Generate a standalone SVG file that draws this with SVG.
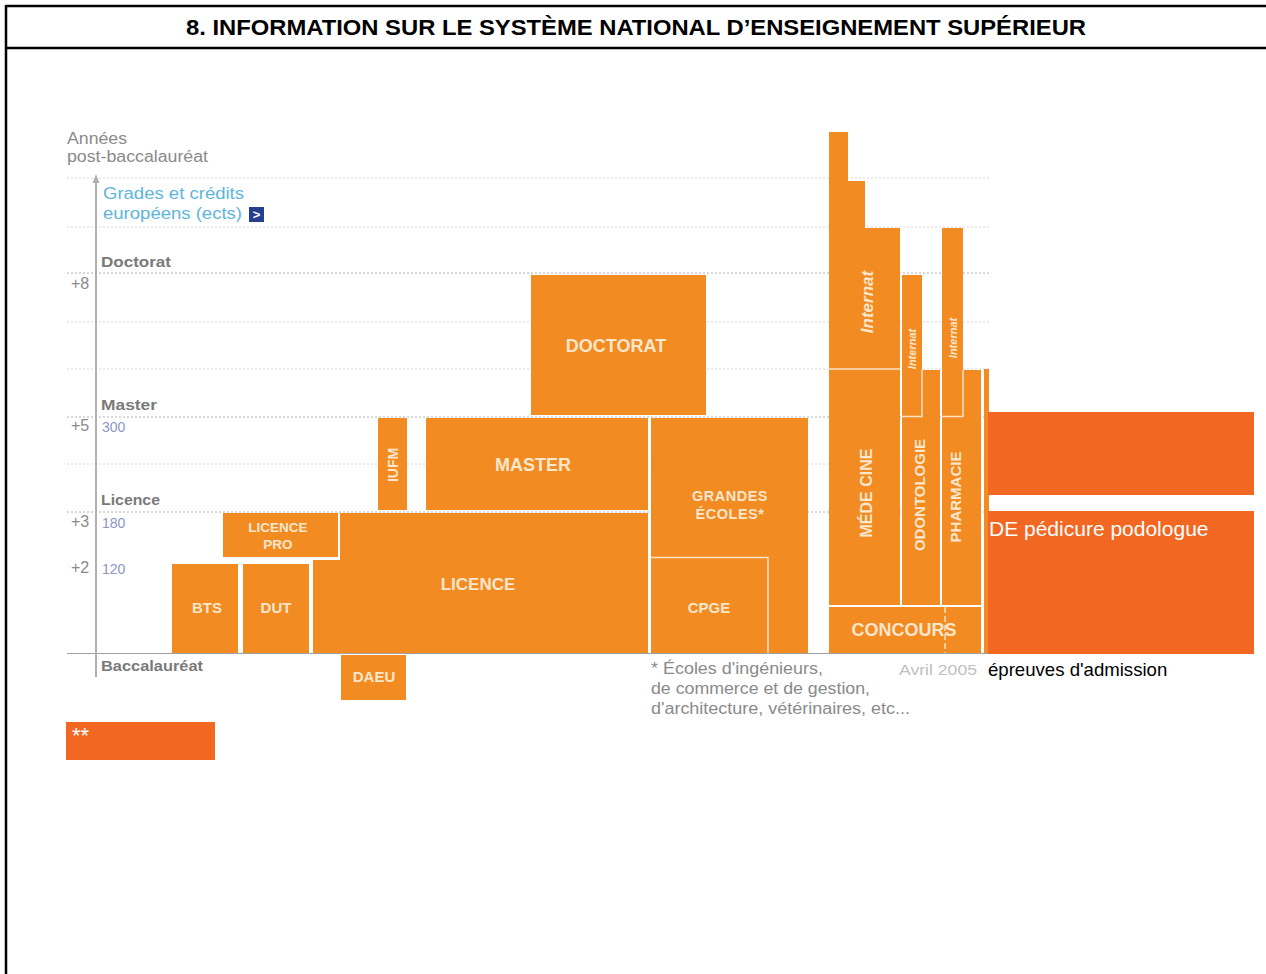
<svg xmlns="http://www.w3.org/2000/svg" width="1266" height="974" viewBox="0 0 1266 974">
<style>
.b{fill:#F28B22}
.sep{fill:none;stroke:#FBE2C4;stroke-width:1.5}
.lbl{font-family:"Liberation Sans",Arial,sans-serif;font-weight:bold;fill:#FCE6CC;text-anchor:middle}
.ax{font-family:"Liberation Sans",Arial,sans-serif;fill:#8a8a8a;font-size:16px}
.axb{font-family:"Liberation Sans",Arial,sans-serif;fill:#7a7a7a;font-size:15px;font-weight:bold}
.num{font-family:"Liberation Sans",Arial,sans-serif;fill:#8c95c4;font-size:14px}
.g1{stroke:#d6d6d6;stroke-width:1;stroke-dasharray:2 2}
.g2{stroke:#b0b0b0;stroke-width:1;stroke-dasharray:2 2}
.ov{fill:#F26722}
</style>
<rect width="1266" height="974" fill="#fff"/>
<g id="frame" stroke="#000" stroke-width="2.5" fill="none">
<line x1="6" y1="6" x2="1266" y2="6"/>
<line x1="6" y1="48" x2="1266" y2="48"/>
<line x1="6" y1="5" x2="6" y2="974"/>
</g>
<text id="title" x="636" y="35" font-family="Liberation Sans,Arial,sans-serif" font-weight="bold" font-size="22" text-anchor="middle" textLength="900" lengthAdjust="spacingAndGlyphs">8. INFORMATION SUR LE SYSTÈME NATIONAL D’ENSEIGNEMENT SUPÉRIEUR</text>

<g id="grid">
<line class="g1" x1="67" y1="178" x2="990" y2="178"/>
<line class="g1" x1="67" y1="227" x2="990" y2="227"/>
<line class="g2" x1="67" y1="273" x2="990" y2="273"/>
<line class="g1" x1="67" y1="322" x2="990" y2="322"/>
<line class="g1" x1="67" y1="369" x2="990" y2="369"/>
<line class="g2" x1="67" y1="417" x2="990" y2="417"/>
<line class="g1" x1="67" y1="464" x2="990" y2="464"/>
<line class="g2" x1="67" y1="512" x2="990" y2="512"/>
<line x1="67" y1="653.5" x2="990" y2="653.5" stroke="#a0a0a0" stroke-width="1.2"/>
<line x1="96" y1="178" x2="96" y2="677" stroke="#b0b0b0" stroke-width="2"/>
<path d="M92.5 183 L96 174 L99.5 183 Z" fill="#b0b0b0"/>
</g>

<g id="axis-labels">
<text class="ax" x="67" y="144" textLength="60" lengthAdjust="spacingAndGlyphs">Années</text>
<text class="ax" x="67" y="162" textLength="141" lengthAdjust="spacingAndGlyphs">post-baccalauréat</text>
<text x="103" y="199" font-family="Liberation Sans,Arial,sans-serif" font-size="16" fill="#5db5da" textLength="141" lengthAdjust="spacingAndGlyphs">Grades et crédits</text>
<text x="103" y="219" font-family="Liberation Sans,Arial,sans-serif" font-size="16" fill="#5db5da" textLength="139" lengthAdjust="spacingAndGlyphs">européens (ects)</text>
<rect x="249" y="207" width="15" height="15" fill="#24408f"/>
<text x="256.5" y="219" font-family="Liberation Sans,Arial,sans-serif" font-size="13" font-weight="bold" fill="#fff" text-anchor="middle">&gt;</text>
<text class="axb" x="101" y="267" textLength="70" lengthAdjust="spacingAndGlyphs">Doctorat</text>
<text class="ax" x="71" y="289" font-size="13">+8</text>
<text class="axb" x="101" y="410" textLength="56" lengthAdjust="spacingAndGlyphs">Master</text>
<text class="ax" x="71" y="431" font-size="13">+5</text>
<text class="num" x="102" y="432">300</text>
<text class="axb" x="101" y="505" textLength="59" lengthAdjust="spacingAndGlyphs">Licence</text>
<text class="ax" x="71" y="527" font-size="13">+3</text>
<text class="num" x="102" y="528">180</text>
<text class="ax" x="71" y="573" font-size="13">+2</text>
<text class="num" x="102" y="574">120</text>
<text class="axb" x="101" y="671" textLength="102" lengthAdjust="spacingAndGlyphs">Baccalauréat</text>
</g>

<g id="doctorat"><rect class="b" x="531" y="275" width="175" height="140"/><text class="lbl" x="616" y="352" font-size="18">DOCTORAT</text></g>
<g id="master"><rect class="b" x="426" y="418" width="222" height="92"/><text class="lbl" x="533" y="471" font-size="18">MASTER</text></g>
<g id="iufm"><rect class="b" x="378" y="418" width="29" height="92"/><text class="lbl" transform="translate(398,465) rotate(-90)" font-size="14">IUFM</text></g>
<g id="licence"><path class="b" d="M340 513 H648 V653 H313 V560 H340 Z"/><text class="lbl" x="478" y="590" font-size="17">LICENCE</text></g>
<g id="licence-pro"><rect class="b" x="223" y="513" width="115" height="44"/><text class="lbl" x="278" y="532" font-size="13.5">LICENCE</text><text class="lbl" x="278" y="549" font-size="13.5">PRO</text></g>
<g id="bts"><rect class="b" x="172" y="564" width="66" height="89"/><text class="lbl" x="207" y="613" font-size="15">BTS</text></g>
<g id="dut"><rect class="b" x="243" y="564" width="66" height="89"/><text class="lbl" x="276" y="613" font-size="15">DUT</text></g>
<g id="daeu"><rect class="b" x="341" y="655" width="65" height="45"/><text class="lbl" x="374" y="682" font-size="15">DAEU</text></g>
<g id="grandes-ecoles"><rect class="b" x="651" y="418" width="157" height="235"/><text class="lbl" x="730" y="501" font-size="14.5" letter-spacing="0.5">GRANDES</text><text class="lbl" x="730" y="519" font-size="14.5" letter-spacing="0.5">ÉCOLES*</text></g>
<g id="cpge"><path class="sep" d="M651 557.5 H768 V653"/><text class="lbl" x="709" y="613" font-size="15">CPGE</text></g>

<g id="medecine">
<path class="b" d="M829 132 H848 V181 H865 V228 H900 V605 H829 Z"/>
<line class="sep" x1="829" y1="369" x2="900" y2="369"/>
<text class="lbl" transform="translate(873,302) rotate(-90)" font-size="17" font-style="italic" font-weight="bold">Internat</text>
<text class="lbl" transform="translate(872,493) rotate(-90)" font-size="16">MÉDE CINE</text>
</g>
<g id="odontologie">
<path class="b" d="M902 275 H922 V370 H940 V605 H902 Z"/>
<path class="sep" d="M922 370 V416.5 H902"/>
<text class="lbl" transform="translate(916,349) rotate(-90)" font-size="11" font-style="italic">Internat</text>
<text class="lbl" transform="translate(925,495) rotate(-90)" font-size="15">ODONTOLOGIE</text>
</g>
<g id="pharmacie">
<path class="b" d="M942 228 H963 V370 H981 V605 H942 Z"/>
<path class="sep" d="M963 370 V416.5 H942"/>
<text class="lbl" transform="translate(957,338) rotate(-90)" font-size="11" font-style="italic">Internat</text>
<text class="lbl" transform="translate(961,497) rotate(-90)" font-size="15">PHARMACIE</text>
</g>
<g id="concours">
<rect class="b" x="829" y="607" width="152" height="46"/>
<line class="sep" x1="945" y1="607" x2="945" y2="653" stroke-dasharray="6 3"/>
<text class="lbl" x="904" y="636" font-size="18">CONCOURS</text>
</g>
<rect class="b" x="984" y="369" width="5" height="284"/>

<g id="notes">
<text x="651" y="674" font-family="Liberation Sans,Arial,sans-serif" font-size="16" fill="#8a8a8a" textLength="172" lengthAdjust="spacingAndGlyphs">* Écoles d'ingénieurs,</text>
<text x="651" y="694" font-family="Liberation Sans,Arial,sans-serif" font-size="16" fill="#8a8a8a" textLength="219" lengthAdjust="spacingAndGlyphs">de commerce et de gestion,</text>
<text x="651" y="714" font-family="Liberation Sans,Arial,sans-serif" font-size="16" fill="#8a8a8a" textLength="259" lengthAdjust="spacingAndGlyphs">d'architecture, vétérinaires, etc...</text>
<text x="899" y="675" font-family="Liberation Sans,Arial,sans-serif" font-size="15" fill="#c0c0c0" textLength="78" lengthAdjust="spacingAndGlyphs">Avril 2005</text>
</g>

<g id="overlay-1"><rect class="ov" x="988" y="412" width="266" height="83"/></g>
<g id="overlay-2"><rect class="ov" x="988" y="511" width="266" height="143"/><text x="989" y="536" font-family="Liberation Sans,Arial,sans-serif" font-size="21" fill="#fff">DE pédicure podologue</text></g>
<text id="epreuves" x="988" y="676" font-family="Liberation Sans,Arial,sans-serif" font-size="18.6" fill="#000">épreuves d'admission</text>
<g id="stars"><rect class="ov" x="66" y="722" width="149" height="38"/><text x="72" y="743" font-family="Liberation Sans,Arial,sans-serif" font-size="22" fill="#fff">**</text></g>
</svg>
